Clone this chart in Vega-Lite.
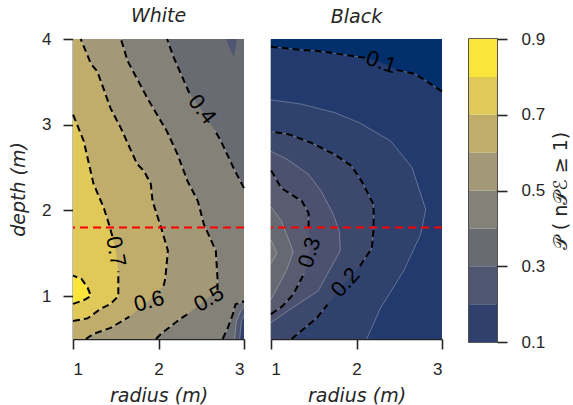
{
  "$schema": "https://vega.github.io/schema/vega-lite/v6.json",
  "autosize": {"type": "pad"},
  "padding": {"left": 9, "top": 7, "right": 2, "bottom": 2},
  "bounds": "flush",
  "spacing": 27,
  "resolve": {"scale": {"color": "independent"}},
  "datasets": {
    "cont": [
      {"p": "W", "lv": 0.1, "d": 0.5, "r": 3, "s": null},
      {"p": "W", "lv": 0.1, "d": 4.0, "r": 3, "s": null},
      {"p": "W", "lv": 0.2, "d": 0.5, "r": 2.95, "s": "W2t"},
      {"p": "W", "lv": 0.2, "d": 0.7, "r": 2.97, "s": "W2t"},
      {"p": "W", "lv": 0.2, "d": 0.78, "r": 3.0, "s": "W2t"},
      {"p": "W", "lv": 0.2, "d": 4.0, "r": 3.0, "s": null},
      {"p": "W", "lv": 0.3, "d": 0.5, "r": 2.89, "s": "W3t"},
      {"p": "W", "lv": 0.3, "d": 0.7, "r": 2.91, "s": "W3t"},
      {"p": "W", "lv": 0.3, "d": 0.82, "r": 2.96, "s": "W3t"},
      {"p": "W", "lv": 0.3, "d": 0.88, "r": 3.0, "s": "W3t"},
      {"p": "W", "lv": 0.3, "d": 4.0, "r": 3.0, "s": null},
      {"p": "W", "lv": 0.4, "d": 0.5, "r": 2.75, "s": "W4a"},
      {"p": "W", "lv": 0.4, "d": 0.63, "r": 2.81, "s": "W4a"},
      {"p": "W", "lv": 0.4, "d": 0.79, "r": 2.87, "s": "W4a"},
      {"p": "W", "lv": 0.4, "d": 0.905, "r": 2.9, "s": "W4a"},
      {"p": "W", "lv": 0.4, "d": 0.94, "r": 3.0, "s": "W4a"},
      {"p": "W", "lv": 0.4, "d": 2.26, "r": 3.0, "s": "W4b"},
      {"p": "W", "lv": 0.4, "d": 2.49, "r": 2.88, "s": "W4b"},
      {"p": "W", "lv": 0.4, "d": 2.81, "r": 2.73, "s": "W4b"},
      {"p": "W", "lv": 0.4, "d": 2.93, "r": 2.66, "s": "W4b"},
      {"p": "W", "lv": 0.4, "d": 3.18, "r": 2.5, "s": null},
      {"p": "W", "lv": 0.4, "d": 3.37, "r": 2.36, "s": "W4c"},
      {"p": "W", "lv": 0.4, "d": 3.78, "r": 2.18, "s": "W4c"},
      {"p": "W", "lv": 0.4, "d": 4.0, "r": 2.1, "s": "W4c"},
      {"p": "W", "lv": 0.5, "d": 0.5, "r": 1.97, "s": "W5a"},
      {"p": "W", "lv": 0.5, "d": 0.56, "r": 2.03, "s": "W5a"},
      {"p": "W", "lv": 0.5, "d": 0.74, "r": 2.26, "s": "W5a"},
      {"p": "W", "lv": 0.5, "d": 0.79, "r": 2.34, "s": "W5a"},
      {"p": "W", "lv": 0.5, "d": 0.97, "r": 2.57, "s": null},
      {"p": "W", "lv": 0.5, "d": 1.07, "r": 2.69, "s": "W5b"},
      {"p": "W", "lv": 0.5, "d": 1.21, "r": 2.69, "s": "W5b"},
      {"p": "W", "lv": 0.5, "d": 1.53, "r": 2.67, "s": "W5b"},
      {"p": "W", "lv": 0.5, "d": 1.84, "r": 2.53, "s": "W5b"},
      {"p": "W", "lv": 0.5, "d": 2.11, "r": 2.46, "s": "W5b"},
      {"p": "W", "lv": 0.5, "d": 2.34, "r": 2.34, "s": "W5b"},
      {"p": "W", "lv": 0.5, "d": 2.66, "r": 2.22, "s": "W5b"},
      {"p": "W", "lv": 0.5, "d": 2.92, "r": 2.1, "s": "W5b"},
      {"p": "W", "lv": 0.5, "d": 3.31, "r": 1.87, "s": "W5b"},
      {"p": "W", "lv": 0.5, "d": 3.74, "r": 1.64, "s": "W5b"},
      {"p": "W", "lv": 0.5, "d": 4.0, "r": 1.56, "s": "W5b"},
      {"p": "W", "lv": 0.6, "d": 0.5, "r": 1.15, "s": "W6a"},
      {"p": "W", "lv": 0.6, "d": 0.56, "r": 1.24, "s": "W6a"},
      {"p": "W", "lv": 0.6, "d": 0.63, "r": 1.44, "s": "W6a"},
      {"p": "W", "lv": 0.6, "d": 0.76, "r": 1.66, "s": "W6a"},
      {"p": "W", "lv": 0.6, "d": 0.94, "r": 1.88, "s": null},
      {"p": "W", "lv": 0.6, "d": 1.12, "r": 2.06, "s": "W6b"},
      {"p": "W", "lv": 0.6, "d": 1.21, "r": 2.08, "s": "W6b"},
      {"p": "W", "lv": 0.6, "d": 1.53, "r": 2.11, "s": "W6b"},
      {"p": "W", "lv": 0.6, "d": 1.8, "r": 2.03, "s": "W6b"},
      {"p": "W", "lv": 0.6, "d": 2.11, "r": 1.93, "s": "W6b"},
      {"p": "W", "lv": 0.6, "d": 2.31, "r": 1.91, "s": "W6b"},
      {"p": "W", "lv": 0.6, "d": 2.46, "r": 1.83, "s": "W6b"},
      {"p": "W", "lv": 0.6, "d": 2.54, "r": 1.75, "s": "W6b"},
      {"p": "W", "lv": 0.6, "d": 2.96, "r": 1.56, "s": "W6b"},
      {"p": "W", "lv": 0.6, "d": 3.19, "r": 1.44, "s": "W6b"},
      {"p": "W", "lv": 0.6, "d": 3.62, "r": 1.285, "s": "W6b"},
      {"p": "W", "lv": 0.6, "d": 3.71, "r": 1.21, "s": "W6b"},
      {"p": "W", "lv": 0.6, "d": 4.0, "r": 1.09, "s": "W6b"},
      {"p": "W", "lv": 0.7, "d": 0.71, "r": 1.0, "s": "W7a"},
      {"p": "W", "lv": 0.7, "d": 0.74, "r": 1.17, "s": "W7a"},
      {"p": "W", "lv": 0.7, "d": 0.85, "r": 1.32, "s": "W7a"},
      {"p": "W", "lv": 0.7, "d": 0.91, "r": 1.44, "s": "W7a"},
      {"p": "W", "lv": 0.7, "d": 1.0, "r": 1.53, "s": "W7a"},
      {"p": "W", "lv": 0.7, "d": 1.21, "r": 1.53, "s": "W7a"},
      {"p": "W", "lv": 0.7, "d": 1.29, "r": 1.53, "s": "W7a"},
      {"p": "W", "lv": 0.7, "d": 1.52, "r": 1.5, "s": null},
      {"p": "W", "lv": 0.7, "d": 1.7, "r": 1.46, "s": "W7b"},
      {"p": "W", "lv": 0.7, "d": 1.84, "r": 1.42, "s": "W7b"},
      {"p": "W", "lv": 0.7, "d": 2.03, "r": 1.36, "s": "W7b"},
      {"p": "W", "lv": 0.7, "d": 2.31, "r": 1.24, "s": "W7b"},
      {"p": "W", "lv": 0.7, "d": 2.81, "r": 1.125, "s": "W7b"},
      {"p": "W", "lv": 0.7, "d": 3.12, "r": 1.0, "s": "W7b"},
      {"p": "W", "lv": 0.8, "d": 0.91, "r": 1.0, "s": "W8"},
      {"p": "W", "lv": 0.8, "d": 0.95, "r": 1.12, "s": "W8"},
      {"p": "W", "lv": 0.8, "d": 1.0, "r": 1.21, "s": "W8"},
      {"p": "W", "lv": 0.8, "d": 1.1, "r": 1.17, "s": "W8"},
      {"p": "W", "lv": 0.8, "d": 1.2, "r": 1.1, "s": "W8"},
      {"p": "W", "lv": 0.8, "d": 1.24, "r": 1.0, "s": "W8"},
      {"p": "B", "lv": 0, "d": 0.5, "r": 3, "s": null},
      {"p": "B", "lv": 0, "d": 4.0, "r": 3, "s": null},
      {"p": "B", "lv": 0.1, "d": 0.5, "r": 3.0, "s": null},
      {"p": "B", "lv": 0.1, "d": 3.39, "r": 3.0, "s": "B1a"},
      {"p": "B", "lv": 0.1, "d": 3.59, "r": 2.69, "s": "B1a"},
      {"p": "B", "lv": 0.1, "d": 3.64, "r": 2.47, "s": "B1a"},
      {"p": "B", "lv": 0.1, "d": 3.73, "r": 2.29, "s": null},
      {"p": "B", "lv": 0.1, "d": 3.78, "r": 2.1, "s": "B1b"},
      {"p": "B", "lv": 0.1, "d": 3.81, "r": 1.9, "s": "B1b"},
      {"p": "B", "lv": 0.1, "d": 3.86, "r": 1.55, "s": "B1b"},
      {"p": "B", "lv": 0.1, "d": 3.88, "r": 1.28, "s": "B1b"},
      {"p": "B", "lv": 0.1, "d": 3.89, "r": 1.2, "s": "B1b"},
      {"p": "B", "lv": 0.1, "d": 3.91, "r": 1.0, "s": "B1b"},
      {"p": "B", "lv": 0.15, "d": 0.5, "r": 2.12, "s": "B15"},
      {"p": "B", "lv": 0.15, "d": 0.86, "r": 2.28, "s": "B15"},
      {"p": "B", "lv": 0.15, "d": 1.29, "r": 2.55, "s": "B15"},
      {"p": "B", "lv": 0.15, "d": 1.72, "r": 2.75, "s": "B15"},
      {"p": "B", "lv": 0.15, "d": 2.01, "r": 2.81, "s": "B15"},
      {"p": "B", "lv": 0.15, "d": 2.5, "r": 2.65, "s": "B15"},
      {"p": "B", "lv": 0.15, "d": 2.81, "r": 2.4, "s": "B15"},
      {"p": "B", "lv": 0.15, "d": 3.02, "r": 2.04, "s": "B15"},
      {"p": "B", "lv": 0.15, "d": 3.14, "r": 1.75, "s": "B15"},
      {"p": "B", "lv": 0.15, "d": 3.24, "r": 1.36, "s": "B15"},
      {"p": "B", "lv": 0.15, "d": 3.29, "r": 1.0, "s": "B15"},
      {"p": "B", "lv": 0.2, "d": 0.5, "r": 1.24, "s": "B2a"},
      {"p": "B", "lv": 0.2, "d": 0.75, "r": 1.54, "s": "B2a"},
      {"p": "B", "lv": 0.2, "d": 0.9, "r": 1.66, "s": "B2a"},
      {"p": "B", "lv": 0.2, "d": 1.16, "r": 1.87, "s": null},
      {"p": "B", "lv": 0.2, "d": 1.35, "r": 2.04, "s": "B2b"},
      {"p": "B", "lv": 0.2, "d": 1.56, "r": 2.18, "s": "B2b"},
      {"p": "B", "lv": 0.2, "d": 1.8, "r": 2.2, "s": "B2b"},
      {"p": "B", "lv": 0.2, "d": 2.07, "r": 2.2, "s": "B2b"},
      {"p": "B", "lv": 0.2, "d": 2.34, "r": 2.06, "s": "B2b"},
      {"p": "B", "lv": 0.2, "d": 2.52, "r": 1.94, "s": "B2b"},
      {"p": "B", "lv": 0.2, "d": 2.65, "r": 1.75, "s": "B2b"},
      {"p": "B", "lv": 0.2, "d": 2.79, "r": 1.47, "s": "B2b"},
      {"p": "B", "lv": 0.2, "d": 2.89, "r": 1.2, "s": "B2b"},
      {"p": "B", "lv": 0.2, "d": 2.92, "r": 1.0, "s": "B2b"},
      {"p": "B", "lv": 0.25, "d": 0.69, "r": 1.0, "s": "B25"},
      {"p": "B", "lv": 0.25, "d": 0.83, "r": 1.2, "s": "B25"},
      {"p": "B", "lv": 0.25, "d": 1.06, "r": 1.55, "s": "B25"},
      {"p": "B", "lv": 0.25, "d": 1.53, "r": 1.81, "s": "B25"},
      {"p": "B", "lv": 0.25, "d": 1.75, "r": 1.8, "s": "B25"},
      {"p": "B", "lv": 0.25, "d": 1.95, "r": 1.73, "s": "B25"},
      {"p": "B", "lv": 0.25, "d": 2.22, "r": 1.59, "s": "B25"},
      {"p": "B", "lv": 0.25, "d": 2.42, "r": 1.44, "s": "B25"},
      {"p": "B", "lv": 0.25, "d": 2.59, "r": 1.2, "s": "B25"},
      {"p": "B", "lv": 0.25, "d": 2.69, "r": 1.0, "s": "B25"},
      {"p": "B", "lv": 0.3, "d": 0.79, "r": 1.0, "s": "B3a"},
      {"p": "B", "lv": 0.3, "d": 0.88, "r": 1.13, "s": "B3a"},
      {"p": "B", "lv": 0.3, "d": 1.02, "r": 1.26, "s": "B3a"},
      {"p": "B", "lv": 0.3, "d": 1.27, "r": 1.39, "s": "B3a"},
      {"p": "B", "lv": 0.3, "d": 1.51, "r": 1.45, "s": null},
      {"p": "B", "lv": 0.3, "d": 1.8, "r": 1.44, "s": "B3b"},
      {"p": "B", "lv": 0.3, "d": 1.97, "r": 1.44, "s": "B3b"},
      {"p": "B", "lv": 0.3, "d": 2.11, "r": 1.36, "s": "B3b"},
      {"p": "B", "lv": 0.3, "d": 2.26, "r": 1.12, "s": "B3b"},
      {"p": "B", "lv": 0.3, "d": 2.47, "r": 1.0, "s": "B3b"},
      {"p": "B", "lv": 0.35, "d": 0.96, "r": 1.0, "s": "B35"},
      {"p": "B", "lv": 0.35, "d": 1.3, "r": 1.18, "s": "B35"},
      {"p": "B", "lv": 0.35, "d": 1.52, "r": 1.26, "s": "B35"},
      {"p": "B", "lv": 0.35, "d": 1.88, "r": 1.12, "s": "B35"},
      {"p": "B", "lv": 0.35, "d": 2.04, "r": 1.0, "s": "B35"},
      {"p": "B", "lv": 0.4, "d": 1.38, "r": 1.0, "s": "B4"},
      {"p": "B", "lv": 0.4, "d": 1.5, "r": 1.07, "s": "B4"},
      {"p": "B", "lv": 0.4, "d": 1.66, "r": 1.0, "s": "B4"}
    ],
    "labels": [
      {"p": "W", "t": "0.4", "r": 2.51, "d": 3.18},
      {"p": "W", "t": "0.7", "r": 1.5, "d": 1.52},
      {"p": "W", "t": "0.6", "r": 1.89, "d": 0.94},
      {"p": "W", "t": "0.5", "r": 2.59, "d": 0.97},
      {"p": "B", "t": "0.1", "r": 2.29, "d": 3.73},
      {"p": "B", "t": "0.3", "r": 1.45, "d": 1.51},
      {"p": "B", "t": "0.2", "r": 1.87, "d": 1.16}
    ],
    "tri": [
      {"d": 3.79, "r": 2.88, "r2": 2.88},
      {"d": 4.0, "r": 2.786, "r2": 2.92}
    ],
    "cbar": [
      {"lo": 0.1, "hi": 0.2}, {"lo": 0.2, "hi": 0.3}, {"lo": 0.3, "hi": 0.4}, {"lo": 0.4, "hi": 0.5},
      {"lo": 0.5, "hi": 0.6}, {"lo": 0.6, "hi": 0.7}, {"lo": 0.7, "hi": 0.8}, {"lo": 0.8, "hi": 0.9}
    ],
    "red": [{"d": 1.8}]
  },
  "hconcat": [
    {
      "width": 171, "height": 300,
      "title": {"text": "White"},
      "layer": [
        {
          "data": {"name": "cont"},
          "transform": [{"filter": "datum.p === 'W'"}],
          "mark": {"type": "area", "orient": "horizontal"},
          "encoding": {
            "y": {"field": "d", "type": "quantitative", "scale": {"domain": [0.5, 4], "nice": false, "zero": false},
                  "axis": {"values": [1, 2, 3, 4], "format": ".0f", "title": "depth (m)"}},
            "x": {"field": "r", "type": "quantitative", "stack": null, "scale": {"domain": [1, 3], "nice": false, "zero": false},
                  "axis": {"values": [1, 2, 3], "format": ".0f", "title": "radius (m)"}},
            "x2": {"datum": 1},
            "color": {"field": "lv", "type": "ordinal", "legend": null,
                      "scale": {"domain": [0.1, 0.2, 0.3, 0.4, 0.5, 0.6, 0.7, 0.8],
                                "range": ["#2f406d", "#4e5670", "#696b72", "#848178", "#a39877", "#c1ad6b", "#e1c959", "#fce53a"]}}
          }
        },
        {
          "data": {"name": "tri"},
          "mark": {"type": "area", "orient": "horizontal", "color": "#4e5670"},
          "encoding": {
            "y": {"field": "d", "type": "quantitative"},
            "x": {"field": "r", "type": "quantitative", "stack": null},
            "x2": {"field": "r2"}
          }
        },
        {
          "data": {"name": "cont"},
          "transform": [{"filter": "datum.p === 'W' && datum.s != null"}],
          "mark": {"type": "line", "stroke": "#ffffff", "strokeOpacity": 0.35, "strokeWidth": 0.8},
          "encoding": {
            "y": {"field": "d", "type": "quantitative"},
            "x": {"field": "r", "type": "quantitative"},
            "detail": {"field": "s"},
            "order": {"field": "d", "type": "quantitative"}
          }
        },
        {
          "data": {"name": "cont"},
          "transform": [{"filter": {"field": "s", "oneOf": ["W4a", "W4b", "W4c", "W5a", "W5b", "W6a", "W6b", "W7a", "W7b", "W8"]}}],
          "mark": {"type": "line", "stroke": "#000000", "strokeWidth": 2, "strokeDash": [7, 4]},
          "encoding": {
            "y": {"field": "d", "type": "quantitative"},
            "x": {"field": "r", "type": "quantitative"},
            "detail": {"field": "s"},
            "order": {"field": "d", "type": "quantitative"}
          }
        },
        {
          "data": {"name": "red"},
          "mark": {"type": "rule", "color": "#ff0000", "strokeWidth": 2, "strokeDash": [8, 5]},
          "encoding": {"y": {"field": "d", "type": "quantitative"}}
        },
        {
          "data": {"name": "labels"},
          "transform": [{"filter": "datum.p === 'W' && datum.t == '0.4'"}],
          "mark": {"type": "text", "font": "Liberation Sans", "fontSize": 22, "color": "#000000", "angle": 52},
          "encoding": {"y": {"field": "d", "type": "quantitative"}, "x": {"field": "r", "type": "quantitative"}, "text": {"field": "t"}}
        },
        {
          "data": {"name": "labels"},
          "transform": [{"filter": "datum.p === 'W' && datum.t == '0.7'"}],
          "mark": {"type": "text", "font": "Liberation Sans", "fontSize": 22, "color": "#000000", "angle": 80},
          "encoding": {"y": {"field": "d", "type": "quantitative"}, "x": {"field": "r", "type": "quantitative"}, "text": {"field": "t"}}
        },
        {
          "data": {"name": "labels"},
          "transform": [{"filter": "datum.p === 'W' && datum.t == '0.6'"}],
          "mark": {"type": "text", "font": "Liberation Sans", "fontSize": 22, "color": "#000000", "angle": -15},
          "encoding": {"y": {"field": "d", "type": "quantitative"}, "x": {"field": "r", "type": "quantitative"}, "text": {"field": "t"}}
        },
        {
          "data": {"name": "labels"},
          "transform": [{"filter": "datum.p === 'W' && datum.t == '0.5'"}],
          "mark": {"type": "text", "font": "Liberation Sans", "fontSize": 22, "color": "#000000", "angle": -30},
          "encoding": {"y": {"field": "d", "type": "quantitative"}, "x": {"field": "r", "type": "quantitative"}, "text": {"field": "t"}}
        }
      ]
    },
    {
      "width": 171, "height": 300,
      "title": {"text": "Black", "dy": -8},
      "layer": [
        {
          "data": {"name": "cont"},
          "transform": [{"filter": "datum.p === 'B'"}],
          "mark": {"type": "area", "orient": "horizontal"},
          "encoding": {
            "y": {"field": "d", "type": "quantitative", "scale": {"domain": [0.5, 4], "nice": false, "zero": false},
                  "axis": {"labels": false, "ticks": false, "title": null}},
            "x": {"field": "r", "type": "quantitative", "stack": null, "scale": {"domain": [1, 3], "nice": false, "zero": false},
                  "axis": {"values": [1, 2, 3], "format": ".0f", "title": "radius (m)"}},
            "x2": {"datum": 1},
            "color": {"field": "lv", "type": "ordinal", "legend": null,
                      "scale": {"domain": [0, 0.1, 0.15, 0.2, 0.25, 0.3, 0.35, 0.4],
                                "range": ["#03306d", "#223a6d", "#2f416d", "#3d486d", "#4b516f", "#595c70", "#666872", "#747474"]}}
          }
        },
        {
          "data": {"name": "cont"},
          "transform": [{"filter": "datum.p === 'B' && datum.s != null"}],
          "mark": {"type": "line", "stroke": "#ffffff", "strokeOpacity": 0.35, "strokeWidth": 0.8},
          "encoding": {
            "y": {"field": "d", "type": "quantitative"},
            "x": {"field": "r", "type": "quantitative"},
            "detail": {"field": "s"},
            "order": {"field": "d", "type": "quantitative"}
          }
        },
        {
          "data": {"name": "cont"},
          "transform": [{"filter": {"field": "s", "oneOf": ["B1a", "B1b", "B2a", "B2b", "B3a", "B3b"]}}],
          "mark": {"type": "line", "stroke": "#000000", "strokeWidth": 2, "strokeDash": [7, 4]},
          "encoding": {
            "y": {"field": "d", "type": "quantitative"},
            "x": {"field": "r", "type": "quantitative"},
            "detail": {"field": "s"},
            "order": {"field": "d", "type": "quantitative"}
          }
        },
        {
          "data": {"name": "red"},
          "mark": {"type": "rule", "color": "#ff0000", "strokeWidth": 2, "strokeDash": [8, 5]},
          "encoding": {"y": {"field": "d", "type": "quantitative"}}
        },
        {
          "data": {"name": "labels"},
          "transform": [{"filter": "datum.p === 'B' && datum.t == '0.1'"}],
          "mark": {"type": "text", "font": "Liberation Sans", "fontSize": 22, "color": "#000000", "angle": 18},
          "encoding": {"y": {"field": "d", "type": "quantitative"}, "x": {"field": "r", "type": "quantitative"}, "text": {"field": "t"}}
        },
        {
          "data": {"name": "labels"},
          "transform": [{"filter": "datum.p === 'B' && datum.t == '0.3'"}],
          "mark": {"type": "text", "font": "Liberation Sans", "fontSize": 22, "color": "#000000", "angle": -72},
          "encoding": {"y": {"field": "d", "type": "quantitative"}, "x": {"field": "r", "type": "quantitative"}, "text": {"field": "t"}}
        },
        {
          "data": {"name": "labels"},
          "transform": [{"filter": "datum.p === 'B' && datum.t == '0.2'"}],
          "mark": {"type": "text", "font": "Liberation Sans", "fontSize": 22, "color": "#000000", "angle": -48},
          "encoding": {"y": {"field": "d", "type": "quantitative"}, "x": {"field": "r", "type": "quantitative"}, "text": {"field": "t"}}
        }
      ]
    },
    {
      "width": 28, "height": 303,
      "view": {"stroke": "#262626", "strokeWidth": 1.6},
      "data": {"name": "cbar"},
      "mark": {"type": "rect"},
      "encoding": {
        "y": {"field": "lo", "type": "quantitative", "scale": {"domain": [0.1, 0.9], "nice": false, "zero": false},
              "axis": {"orient": "right", "values": [0.1, 0.3, 0.5, 0.7, 0.9], "format": ".1f", "domain": false,
                       "labelPadding": 14, "title": "𝒫 ( n𝒫ℰ ≥ 1)", "titleAngle": -90, "titleBaseline": "top",
                       "titleFontStyle": "normal", "titlePadding": 7}},
        "y2": {"field": "hi"},
        "color": {"field": "lo", "type": "ordinal", "legend": null,
                  "scale": {"domain": [0.1, 0.2, 0.3, 0.4, 0.5, 0.6, 0.7, 0.8],
                            "range": ["#2f406d", "#4e5670", "#696b72", "#848178", "#a39877", "#c1ad6b", "#e1c959", "#fce53a"]}}
      }
    }
  ],
  "config": {
    "view": {"stroke": null},
    "font": "Liberation Sans",
    "text": {"align": "center", "baseline": "middle"},
    "axis": {"grid": false, "labelOverlap": false, "labelFont": "Liberation Sans", "labelFontSize": 17, "labelColor": "#262626",
             "titleFont": "DejaVu Sans", "titleFontSize": 19, "titleFontStyle": "italic", "titleFontWeight": "normal", "titleColor": "#262626",
             "domainColor": "#262626", "domainWidth": 1.6, "tickColor": "#262626", "tickWidth": 1.6, "tickSize": 10},
    "axisX": {"labelPadding": 12, "titlePadding": 9, "labelAngle": 0},
    "axisY": {"labelPadding": 12, "titlePadding": 13},
    "title": {"font": "DejaVu Sans", "fontStyle": "italic", "fontWeight": "normal", "fontSize": 19, "color": "#262626", "offset": 4, "frame": "group"}
  }
}
